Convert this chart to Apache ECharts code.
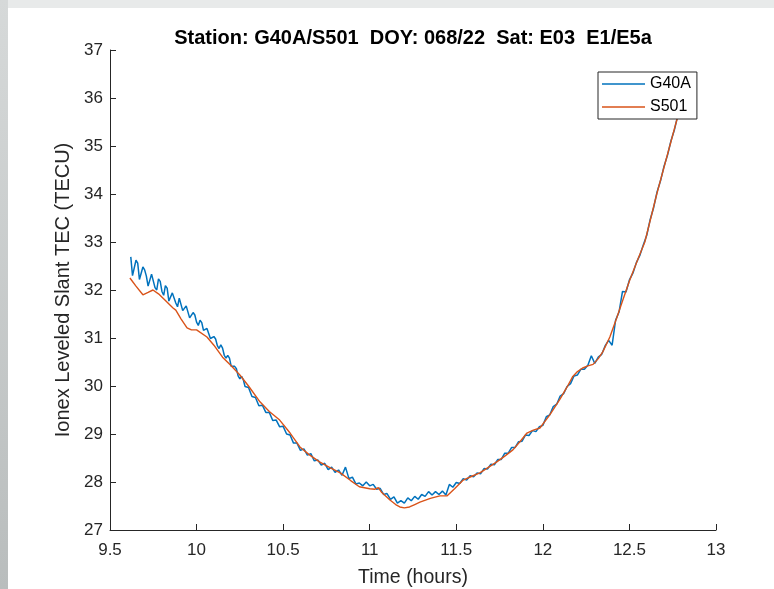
<!DOCTYPE html>
<html>
<head>
<meta charset="utf-8">
<script src="https://cdn.jsdelivr.net/npm/echarts@6/dist/echarts.min.js"></script>
<style>html,body{margin:0;padding:0;background:#fff;}#chart{width:774px;height:589px;}</style>
</head>
<body>
<div id="chart"></div>
<script>
var chartTitle = 'Station: G40A/S501  DOY: 068/22  Sat: E03  E1/E5a';
var xName = 'Time (hours)';
var yName = 'Ionex Leveled Slant TEC (TECU)';
var seriesNames = ['G40A', 'S501'];

var timeG = [9.62,9.63,9.64,9.65,9.66,9.67,9.68,9.69,9.70,9.71,9.72,9.73,9.74,9.75,9.76,9.77,9.78,9.79,9.80,9.81,9.82,9.83,9.84,9.85,9.86,9.87,9.88,9.89,9.90,9.91,9.92,9.93,9.94,9.95,9.96,9.97,9.98,9.99,
10.00,10.01,10.02,10.03,10.04,10.05,10.06,10.07,10.08,10.09,10.10,10.11,10.12,10.13,10.14,10.15,10.16,10.17,10.18,10.19,10.20,10.21,10.22,10.23,10.24,10.25,10.26,10.27,10.28,10.29,10.30,
10.32,10.34,10.36,10.38,
10.40,10.42,10.44,10.46,10.48,10.50,10.52,10.54,10.56,10.58,10.60,10.62,10.64,10.66,10.68,10.70,10.72,10.74,10.76,10.78,
10.80,10.82,10.84,10.86,10.88,10.90,10.92,10.94,10.96,10.98,11.00,11.02,11.04,11.06,11.08,11.10,11.12,11.14,11.16,11.18,
11.20,11.22,11.24,11.26,11.28,11.30,11.32,11.34,11.36,11.38,11.40,11.42,11.44,11.46,11.48,11.50,11.52,11.54,11.56,11.58,
11.60,11.62,11.64,11.66,11.68,11.70,11.72,11.74,11.76,11.78,11.80,11.82,11.84,11.86,11.88,11.90,11.92,11.94,11.96,11.98,
12.00,12.02,12.04,12.06,12.08,12.10,12.12,12.14,12.16,12.18,12.20,12.22,12.24,12.26,12.28,12.30,12.32,12.34,12.36,12.38,
12.40,12.42,12.44,12.46,12.48,12.50,12.52,12.54,12.56,12.58,12.60,12.62,12.64,12.66,12.68,12.70,12.72,12.74,12.76,12.78,
12.80,12.82,12.84];
var g40a = [32.69,32.30,32.28,32.62,32.56,32.22,32.25,32.48,32.42,32.29,32.08,32.07,32.33,32.31,32.05,32.00,32.23,32.18,31.97,31.89,32.09,32.04,31.77,31.80,31.94,31.93,31.73,31.65,31.83,31.79,31.57,31.55,31.67,31.66,31.42,31.42,31.53,31.48,
31.33,31.26,31.37,31.32,31.16,31.13,31.20,31.17,30.99,30.95,31.03,30.98,30.84,30.78,30.86,30.79,30.64,30.58,30.64,30.58,30.41,30.37,30.41,30.36,30.21,30.15,30.20,30.13,29.99,29.95,29.97,
29.78,29.76,29.59,29.60,
29.45,29.45,29.28,29.29,29.15,29.16,29.00,28.98,28.81,28.81,28.66,28.69,28.56,28.59,28.44,28.46,28.35,28.39,28.26,28.31,
28.20,28.25,28.14,28.31,28.07,28.10,27.96,27.98,27.92,28.00,27.92,27.95,27.85,27.87,27.74,27.76,27.64,27.69,27.56,27.61,
27.56,27.67,27.61,27.70,27.64,27.74,27.70,27.80,27.73,27.80,27.74,27.81,27.73,27.95,27.89,27.99,27.97,28.07,28.04,28.13,
28.11,28.19,28.17,28.28,28.27,28.37,28.36,28.47,28.47,28.60,28.60,28.72,28.72,28.84,28.85,28.98,28.97,29.07,29.05,29.15,
29.18,29.36,29.40,29.57,29.62,29.79,29.84,29.99,30.05,30.21,30.23,30.35,30.35,30.43,30.63,30.47,30.60,30.66,30.84,30.95,
30.85,31.37,31.54,31.97,31.96,32.21,32.35,32.57,32.72,32.94,33.14,33.47,33.72,34.05,34.28,34.58,34.81,35.11,35.34,35.65,
35.87,36.17,36.39];

var timeS = [9.615,9.65,9.69,9.72,9.748,9.78,9.82,9.864,9.88,9.91,9.945,9.97,10.0,10.06,10.1,10.15,10.2,10.25,10.3,10.366,
10.42,10.48,10.54,10.597,10.65,10.71,10.77,10.83,10.89,10.94,11.0,11.03,11.05,11.07,11.117,11.15,11.174,11.2,11.23,11.26,
11.29,11.35,11.405,11.446,11.49,11.54,11.59,11.636,11.734,11.78,11.827,11.87,11.908,11.945,11.983,12.04,12.098,12.14,12.173,12.2,
12.23,12.26,12.29,12.32,12.346,12.387,12.427,12.462,12.502,12.55,12.589,12.658,12.733,12.808,12.849];
var s501 = [32.25,32.08,31.9,31.95,32.0,31.92,31.78,31.625,31.58,31.4,31.21,31.17,31.17,31.02,30.85,30.6,30.42,30.23,30.0,29.67,
29.47,29.29,29.02,28.73,28.57,28.42,28.3,28.19,28.03,27.9,27.86,27.85,27.88,27.78,27.625,27.53,27.48,27.46,27.48,27.53,
27.58,27.66,27.71,27.71,27.86,28.04,28.12,28.19,28.42,28.54,28.67,28.85,29.02,29.08,29.125,29.4,29.72,29.98,30.2,30.3,
30.375,30.42,30.45,30.57,30.71,31.02,31.42,31.79,32.21,32.65,33.0,34.0,35.0,36.0,36.5];

function pairs(t, v) { var out = []; for (var i = 0; i < t.length; i++) out.push([t[i], v[i]]); return out; }

var chart = echarts.init(document.getElementById('chart'), null, {renderer: 'canvas'});
var font = 'Liberation Sans, Arial, Helvetica, sans-serif';
var ink = '#262626';
chart.setOption({
  backgroundColor: '#ffffff',
  animation: false,
  textStyle: {fontFamily: font},
  grid: {left: 110, right: 58, top: 50, bottom: 59, containLabel: false, outerBoundsMode: 'none'},
  graphic: [
    {type: 'rect', shape: {x: 0, y: 0, width: 774, height: 8}, style: {fill: '#e8eaea'}, silent: true, z: -10},
    {type: 'rect', shape: {x: 0, y: 0, width: 8, height: 589},
     style: {fill: new echarts.graphic.LinearGradient(0, 0, 0, 1, [{offset: 0, color: '#d6d9d9'}, {offset: 1, color: '#b9bdbd'}])},
     silent: true, z: -10},
    {type: 'text', x: 413, y: 38, style: {text: chartTitle, fill: '#000', font: 'bold 20px ' + font, textAlign: 'center', textVerticalAlign: 'middle'}, silent: true}
  ],
  legend: {
    data: seriesNames,
    orient: 'vertical',
    left: 598, top: 72,
    icon: 'rect',
    itemWidth: 43, itemHeight: 1.5, itemGap: 7,
    padding: [4, 6, 4, 4],
    borderColor: ink, borderWidth: 1, backgroundColor: '#fff',
    textStyle: {fontSize: 16, color: '#000', fontFamily: font},
    z: 10
  },
  xAxis: {
    type: 'value', min: 9.5, max: 13, interval: 0.5,
    name: xName, nameLocation: 'middle', nameGap: 38,
    nameTextStyle: {fontSize: 19.5, color: ink, fontFamily: font},
    axisLine: {show: true, onZero: false, lineStyle: {color: ink, width: 1}},
    axisTick: {show: true, inside: true, length: 6, lineStyle: {color: ink}},
    axisLabel: {fontSize: 17, color: ink, margin: 12, fontFamily: font},
    splitLine: {show: false}
  },
  yAxis: {
    type: 'value', min: 27, max: 37, interval: 1,
    name: yName, nameLocation: 'middle', nameGap: 37, nameRotate: 90,
    nameTextStyle: {fontSize: 20, color: ink, fontFamily: font},
    axisLine: {show: true, onZero: false, lineStyle: {color: ink, width: 1}},
    axisTick: {show: true, inside: true, length: 6, lineStyle: {color: ink}},
    axisLabel: {fontSize: 17, color: ink, margin: 7, fontFamily: font},
    splitLine: {show: false}
  },
  series: [
    {name: seriesNames[0], type: 'line', data: pairs(timeG, g40a), symbol: 'none', lineStyle: {color: '#0072BD', width: 1.5}, itemStyle: {color: '#0072BD'}, z: 2},
    {name: seriesNames[1], type: 'line', data: pairs(timeS, s501), symbol: 'none', lineStyle: {color: '#D95319', width: 1.4}, itemStyle: {color: '#D95319'}, z: 3}
  ]
});
</script>
</body>
</html>
